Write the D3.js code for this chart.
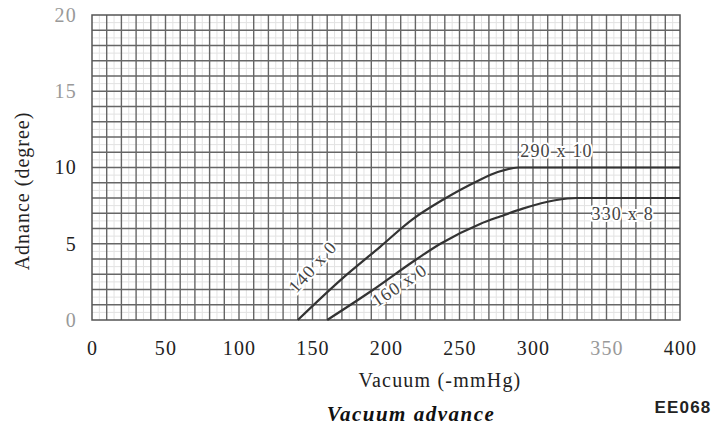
<!DOCTYPE html>
<html>
<head>
<meta charset="utf-8">
<script src="https://cdn.jsdelivr.net/npm/d3@7"></script>
<style>
  body { margin: 0; background: #fff; }
  svg { display: block; }
</style>
</head>
<body>
<div id="chart-div"></div>
<script>
// Chart globals
const CHART_WIDTH = 728
const CHART_HEIGHT = 427

// data: vacuum (-mmHg) vs advance (degree)
const curveA_x = [140, 170, 196, 218, 239, 262, 276, 290, 400]
const curveA_y = [0, 2.7, 4.8, 6.6, 7.9, 9.1, 9.7, 10, 10]
const curveB_x = [160, 190, 221, 237, 264, 278, 293, 315, 330, 400]
const curveB_y = [0, 1.9, 4.0, 5.0, 6.3, 6.8, 7.3, 7.85, 8, 8]

const xTickValues = [0, 50, 100, 150, 200, 250, 300, 350, 400]
const yTickValues = [0, 5, 10, 15, 20]

// point labels (break points of the curves)
const pointLabels = ["140 x 0", "160 x 0", "290 x 10", "330 x 8"]

init();

function init () {
  const svg = d3.select("#chart-div").append("svg")
    .attr("width", CHART_WIDTH)
    .attr("height", CHART_HEIGHT)

  const marginLeft = 92, marginTop = 15
  const plotRight = 680, plotBottom = 320

  const x = d3.scaleLinear().domain([0, 400]).range([marginLeft, plotRight])
  const y = d3.scaleLinear().domain([0, 20]).range([plotBottom, marginTop])

  // minor grid (faint)
  const grid = svg.append("g").attr("class", "grid")
  grid.selectAll("line.vminor")
    .data(d3.range(5, 400, 10))
    .join("line")
      .attr("x1", d => x(d)).attr("x2", d => x(d))
      .attr("y1", y(20)).attr("y2", y(0))
      .attr("stroke", "#e2e2e2").attr("stroke-width", 1)
  grid.selectAll("line.hminor")
    .data(d3.range(0.5, 20, 1))
    .join("line")
      .attr("x1", x(0)).attr("x2", x(400))
      .attr("y1", d => y(d)).attr("y2", d => y(d))
      .attr("stroke", "#e2e2e2").attr("stroke-width", 1)

  // major grid
  const g2 = svg.append("g")
  g2.selectAll("line")
    .data(d3.range(10, 400, 10))
    .join("line")
      .attr("x1", d => x(d)).attr("x2", d => x(d))
      .attr("y1", y(20)).attr("y2", y(0))
      .attr("stroke", "#666").attr("stroke-width", 1.4)
  const g3 = svg.append("g")
  g3.selectAll("line")
    .data(d3.range(1, 20, 1))
    .join("line")
      .attr("x1", x(0)).attr("x2", x(400))
      .attr("y1", d => y(d)).attr("y2", d => y(d))
      .attr("stroke", "#666").attr("stroke-width", 1.4)

  // frame
  svg.append("rect")
    .attr("x", x(0)).attr("y", y(20))
    .attr("width", x(400) - x(0)).attr("height", y(0) - y(20))
    .attr("fill", "none").attr("stroke", "#555").attr("stroke-width", 1.5)

  // curves
  const line = d3.line()
    .x(d => x(d[0]))
    .y(d => y(d[1]))
    .curve(d3.curveMonotoneX)
  const seriesA = curveA_x.map((v, i) => [v, curveA_y[i]])
  const seriesB = curveB_x.map((v, i) => [v, curveB_y[i]])
  svg.selectAll("path.curve")
    .data([seriesA, seriesB])
    .join("path")
      .attr("class", "curve")
      .attr("d", line)
      .attr("fill", "none")
      .attr("stroke", "#333")
      .attr("stroke-width", 2.2)

  const serif = "'Liberation Serif', 'DejaVu Serif', serif"

  // axes (ticks are hidden, only labels)
  const xAxis = svg.append("g")
    .attr("transform", `translate(0,${plotBottom + 20})`)
    .call(d3.axisBottom(x).tickValues(xTickValues).tickSize(0))
  const yAxis = svg.append("g")
    .attr("transform", `translate(${marginLeft - 12},0)`)
    .call(d3.axisLeft(y).tickValues(yTickValues).tickSize(0))
  for (const ax of [xAxis, yAxis]) {
    ax.select(".domain").remove()
    ax.selectAll("text")
      .style("font-family", serif)
      .style("font-size", "20px")
      .style("letter-spacing", "1.2px")
      .attr("fill", "#222")
  }
  xAxis.selectAll("text").attr("dy", "0.6em")
    .attr("fill", d => d === 350 ? "#999" : "#222")
  yAxis.selectAll("text")
    .attr("fill", d => (d === 20 || d === 15 || d === 0) ? "#999" : "#222")

  // axis titles
  svg.append("text")
    .attr("x", 440).attr("y", 387)
    .attr("text-anchor", "middle")
    .style("font-family", serif).style("font-size", "20px")
    .style("letter-spacing", "1.2px")
    .attr("fill", "#222")
    .text("Vacuum (-mmHg)")

  svg.append("text")
    .attr("transform", "translate(29,191) rotate(-90)")
    .attr("text-anchor", "middle")
    .style("font-family", serif).style("font-size", "20px")
    .style("letter-spacing", "1px")
    .attr("fill", "#222")
    .text("Adnance (degree)")

  svg.append("text")
    .attr("x", 411).attr("y", 421)
    .attr("text-anchor", "middle")
    .style("font-family", serif).style("font-size", "21px")
    .style("font-style", "italic").style("font-weight", "bold")
    .style("letter-spacing", "1.5px")
    .attr("fill", "#111")
    .text("Vacuum advance")

  svg.append("text")
    .attr("x", 683).attr("y", 413)
    .attr("text-anchor", "middle")
    .style("font-family", "'Liberation Sans', Arial, sans-serif").style("font-size", "17px")
    .style("font-weight", "bold")
    .style("letter-spacing", "1.2px")
    .attr("fill", "#222")
    .text("EE068")

  // point labels with white backing
  const labelSpecs = [
    { text: pointLabels[0], px: 150, py: 3.5, rot: -48 },
    { text: pointLabels[1], px: 209, py: 2.3, rot: -34 },
    { text: pointLabels[2], px: 316, py: 11.1, rot: 0 },
    { text: pointLabels[3], px: 361, py: 7.0, rot: 0 }
  ]
  const lab = svg.selectAll("g.plabel")
    .data(labelSpecs)
    .join("g")
      .attr("class", "plabel")
      .attr("transform", d => `translate(${x(d.px)},${y(d.py)}) rotate(${d.rot})`)
  lab.append("text")
    .attr("text-anchor", "middle")
    .attr("dy", "0.35em")
    .style("font-family", serif).style("font-size", "18px")
    .style("letter-spacing", "1.2px")
    .attr("fill", "none")
    .attr("stroke", "#fff").attr("stroke-width", 4)
    .text(d => d.text)
  lab.append("text")
    .attr("text-anchor", "middle")
    .attr("dy", "0.35em")
    .style("font-family", serif).style("font-size", "18px")
    .style("letter-spacing", "1.2px")
    .attr("fill", "#444")
    .text(d => d.text)
}
</script>
</body>
</html>
